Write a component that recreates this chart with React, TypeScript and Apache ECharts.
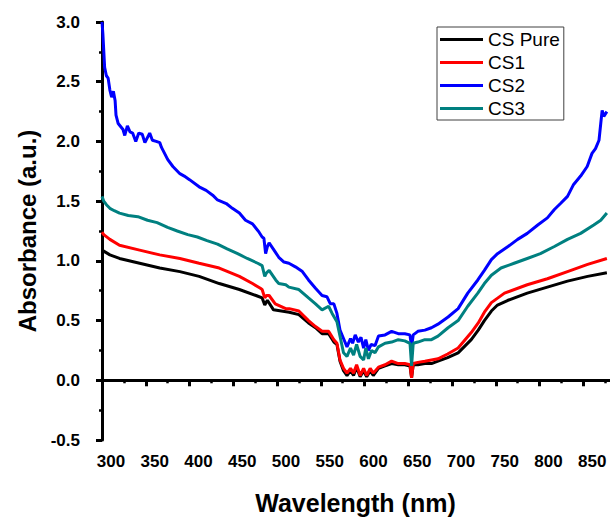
import React, { useEffect, useRef } from "react";
import * as echarts from "echarts";

const seriesNames = ["CS Pure", "CS1", "CS2", "CS3"];
const seriesColors = ["#000000", "#ff0000", "#0000ff", "#008080"];

// [wavelength (nm), absorbance (a.u.)]
const csPure: [number, number][] = [
  [300, 1.09], [309, 1.05], [320, 1.02], [343, 0.98], [366, 0.94], [389, 0.91], [411, 0.87],
  [434, 0.81], [457, 0.76], [476, 0.71], [483, 0.69], [486, 0.63], [489, 0.67], [496, 0.59],
  [505, 0.58], [514, 0.57], [525, 0.55], [536, 0.48], [544, 0.44], [551.5, 0.39], [559, 0.39],
  [565, 0.32], [568.5, 0.3], [572, 0.16], [576, 0.08], [580, 0.04], [584, 0.08], [587.5, 0.04],
  [591, 0.11], [595, 0.03], [599, 0.08], [602.5, 0.03], [606.5, 0.08], [610, 0.04], [616, 0.1],
  [623.5, 0.12], [631, 0.14], [638.6, 0.13], [646, 0.13], [652, 0.12], [653.8, 0.02],
  [655.7, 0.13], [661, 0.13], [669, 0.14], [676.5, 0.14], [684, 0.16], [695, 0.19], [707, 0.23],
  [722, 0.34], [730, 0.42], [737, 0.5], [745, 0.58], [752, 0.63], [764, 0.67], [786, 0.73],
  [809, 0.78], [832, 0.83], [855, 0.87], [877, 0.9],
];

const cs1: [number, number][] = [
  [300, 1.24], [302, 1.22], [309, 1.18], [320, 1.13], [343, 1.09], [366, 1.05], [389, 1.02],
  [411, 0.98], [434, 0.94], [457, 0.87], [472, 0.81], [481, 0.77], [483, 0.76], [486, 0.69],
  [488, 0.71], [491, 0.71], [498, 0.64], [510, 0.6], [514, 0.6], [525, 0.58], [536, 0.5],
  [544, 0.45], [551.5, 0.41], [559, 0.41], [565, 0.34], [568.5, 0.31], [572, 0.17], [576, 0.1],
  [580, 0.06], [584, 0.1], [587.5, 0.06], [591, 0.13], [595, 0.04], [599, 0.1], [602.5, 0.04],
  [606.5, 0.1], [610, 0.06], [616, 0.11], [623.5, 0.13], [631, 0.16], [638.6, 0.14], [646, 0.14],
  [652, 0.13], [653.8, 0.02], [655.7, 0.14], [661, 0.15], [669, 0.16], [676.5, 0.17], [684, 0.18],
  [695, 0.22], [707, 0.27], [722, 0.4], [730, 0.48], [737, 0.57], [745, 0.65], [760, 0.73],
  [786, 0.8], [809, 0.85], [832, 0.91], [855, 0.97], [877, 1.02],
];

const cs2: [number, number][] = [
  [300, 3.0], [301, 2.9], [303, 2.62], [305, 2.55], [307, 2.53], [309, 2.43], [311, 2.37],
  [313, 2.42], [315, 2.34], [316, 2.22], [318.5, 2.15], [324, 2.1], [326, 2.05], [329, 2.13],
  [332, 2.08], [335, 2.07], [338.6, 2.0], [342, 2.07], [346, 2.06], [349, 1.99], [354.5, 2.07],
  [357.6, 2.01], [362, 2.0], [366, 1.99], [368, 1.95], [375, 1.85], [381, 1.79], [389, 1.73],
  [394, 1.71], [400, 1.68], [411, 1.62], [419, 1.59], [426.5, 1.55], [432, 1.51], [442, 1.48],
  [449, 1.44], [457, 1.4], [464, 1.34], [472, 1.31], [479.5, 1.24], [483, 1.2], [485, 1.19],
  [487, 1.06], [489, 1.12], [491, 1.15], [496.6, 1.09], [502, 1.03], [508, 0.99], [513.6, 0.98],
  [521, 0.95], [529, 0.91], [536, 0.84], [544, 0.77], [551.5, 0.71], [557, 0.7], [561, 0.64],
  [565, 0.64], [568.5, 0.56], [572, 0.42], [576, 0.35], [580, 0.28], [584, 0.35], [586.4, 0.31],
  [589.4, 0.38], [593, 0.32], [596, 0.36], [599, 0.27], [601.5, 0.34], [604.5, 0.25],
  [607.6, 0.3], [612, 0.29], [616, 0.37], [623.5, 0.38], [631, 0.41], [638.6, 0.39], [646, 0.39],
  [651.9, 0.38], [653.8, 0.28], [655.7, 0.38], [661, 0.41], [669, 0.42], [676.5, 0.44],
  [684, 0.47], [695.5, 0.53], [707, 0.6], [718, 0.73], [729.5, 0.84], [737, 0.92], [745, 1.01],
  [752, 1.06], [764, 1.12], [775, 1.18], [786, 1.23], [798, 1.3], [809, 1.36], [817, 1.43],
  [824, 1.48], [832, 1.54], [839, 1.64], [847, 1.71], [854.5, 1.79], [860, 1.9], [864, 1.94],
  [868, 2.01], [870, 2.15], [871.6, 2.26], [873.5, 2.21], [877, 2.25],
];

const cs3: [number, number][] = [
  [300, 1.54], [302, 1.5], [305, 1.47], [309, 1.44], [314, 1.42], [320, 1.4], [330, 1.38],
  [341, 1.37], [352, 1.34], [363, 1.32], [375, 1.28], [386, 1.25], [398, 1.22], [409, 1.2],
  [420, 1.17], [432, 1.14], [443, 1.1], [455, 1.06], [466, 1.02], [478, 0.98], [483, 0.96],
  [486, 0.87], [488, 0.9], [491, 0.92], [498.5, 0.84], [502, 0.81], [510, 0.8], [513.6, 0.78],
  [525, 0.76], [536, 0.69], [544, 0.64], [551.5, 0.59], [559, 0.62], [563, 0.56], [568.5, 0.49],
  [572, 0.37], [576, 0.23], [580, 0.2], [584, 0.27], [587.5, 0.21], [591, 0.3], [595, 0.2],
  [599, 0.17], [601.5, 0.27], [604.5, 0.18], [608, 0.25], [612, 0.23], [616, 0.28], [623.5, 0.31],
  [631, 0.32], [638.6, 0.34], [646, 0.33], [652, 0.31], [653.8, 0.12], [655.7, 0.31], [661, 0.32],
  [669, 0.34], [676.5, 0.34], [684, 0.37], [695.5, 0.44], [707, 0.5], [718, 0.62], [729.5, 0.73],
  [737, 0.81], [745, 0.88], [756, 0.94], [771, 0.98], [786, 1.02], [801, 1.06], [817, 1.12],
  [832, 1.18], [847, 1.23], [862, 1.3], [870, 1.34], [877, 1.4],
];

const allData = [csPure, cs1, cs2, cs3];

const FONT = '"Liberation Sans", Arial, Helvetica, sans-serif';

export default function App() {
  const ref = useRef<HTMLDivElement>(null);

  useEffect(() => {
    if (!ref.current) return;
    const chart = echarts.init(ref.current, undefined, { renderer: "svg" });
    chart.setOption({
      animation: false,
      backgroundColor: "#ffffff",
      textStyle: { fontFamily: FONT },
      grid: {
        left: 102,
        top: 22,
        width: 525,
        height: 418,
        containLabel: false,
        outerBoundsMode: "none",
      },
      legend: {
        orient: "vertical",
        left: 437,
        top: 27,
        data: seriesNames.map((n) => ({ name: n, icon: "rect" })),
        itemWidth: 43,
        itemHeight: 3,
        itemGap: 2,
        padding: [2, 4, 1, 3],
        borderColor: "#404040",
        borderWidth: 1,
        backgroundColor: "#ffffff",
        textStyle: { fontFamily: FONT, fontSize: 19, color: "#000", lineHeight: 21 },
      },
      xAxis: {
        type: "value",
        min: 300,
        max: 900,
        interval: 50,
        name: "Wavelength (nm)",
        nameLocation: "middle",
        nameGap: 50,
        nameTextStyle: {
          fontFamily: FONT,
          fontSize: 25,
          fontWeight: "bold",
          color: "#000",
          padding: [0, 18, 0, 0],
        },
        axisLine: { show: true, lineStyle: { color: "#000", width: 3 } },
        axisTick: { show: true, length: 6, lineStyle: { color: "#000", width: 3 } },
        minorTick: { show: true, splitNumber: 2, length: 3, lineStyle: { color: "#000", width: 2.5 } },
        splitLine: { show: false },
        axisLabel: {
          fontFamily: FONT,
          fontSize: 17,
          fontWeight: "bold",
          color: "#000",
          margin: 13,
          padding: [0, 0, 0, 18],
          showMaxLabel: false,
          hideOverlap: false,
        },
      },
      yAxis: {
        type: "value",
        min: -0.5,
        max: 3.0,
        interval: 0.5,
        name: "Absorbance (a.u.)",
        nameLocation: "middle",
        nameGap: 62,
        nameTextStyle: { fontFamily: FONT, fontSize: 24, fontWeight: "bold", color: "#000" },
        axisLine: { show: true, lineStyle: { color: "#000", width: 3 } },
        axisTick: { show: true, length: 6, lineStyle: { color: "#000", width: 3 } },
        minorTick: { show: true, splitNumber: 2, length: 3, lineStyle: { color: "#000", width: 2.5 } },
        splitLine: { show: false },
        axisLabel: {
          fontFamily: FONT,
          fontSize: 17,
          fontWeight: "bold",
          color: "#000",
          margin: 22,
          formatter: (v: number) => v.toFixed(1),
        },
      },
      series: seriesNames.map((name, i) => ({
        name,
        type: "line",
        data: allData[i],
        showSymbol: false,
        symbol: "none",
        lineStyle: { color: seriesColors[i], width: 3 },
        itemStyle: { color: seriesColors[i] },
        clip: true,
        z: 2 + i,
      })),
    });
    return () => chart.dispose();
  }, []);

  return (
    <div
      style={{
        position: "absolute",
        left: 0,
        top: 0,
        width: 610,
        height: 519,
        overflow: "hidden",
        background: "#fff",
      }}
    >
      <div ref={ref} style={{ width: 627, height: 519 }} />
    </div>
  );
}
